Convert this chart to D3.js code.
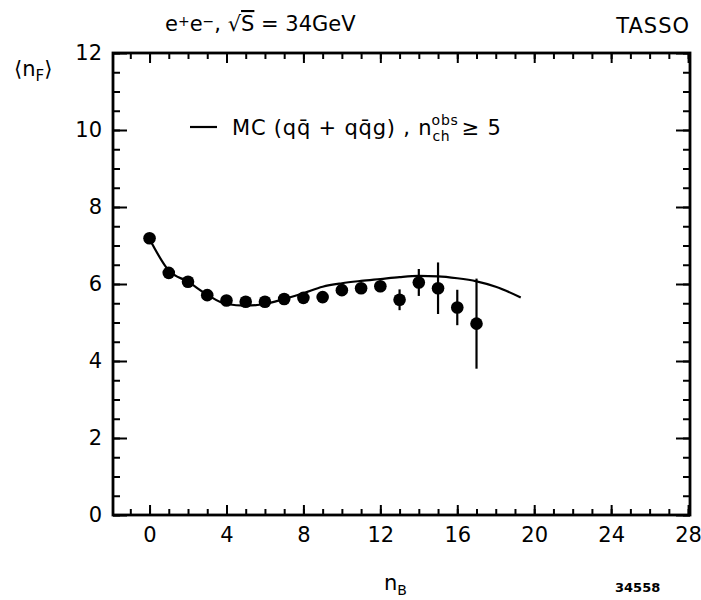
<!DOCTYPE html>
<html>
<head>
<meta charset="utf-8">
<script src="https://cdn.jsdelivr.net/npm/d3@7"></script>
<style>
  body { margin: 0; background: #fff; }
  svg text { font-family: "DejaVu Sans", sans-serif; fill: #000; }
</style>
</head>
<body>
<div id="chart"></div>
<script>
// measured points: n_B vs <n_F>
const nB = [0, 1, 2, 3, 4, 5, 6, 7, 8, 9, 10, 11, 12, 13, 14, 15, 16, 17]
const nF = [7.19, 6.29, 6.06, 5.71, 5.57, 5.54, 5.54, 5.61, 5.64, 5.66, 5.84, 5.89, 5.94, 5.59, 6.04, 5.89, 5.39, 4.97]
const nFErr = [0.1, 0.1, 0.08, 0.08, 0.08, 0.08, 0.08, 0.1, 0.1, 0.1, 0.12, 0.12, 0.15, 0.27, 0.35, 0.67, 0.46, 1.17]

// MC curve (qq + qqg)
const mcX = [0, 1, 2, 3, 4, 5, 6, 7, 8, 9, 10, 11, 12, 13, 14, 15, 16, 17, 18, 19.3]
const mcY = [7.17, 6.35, 6.06, 5.72, 5.48, 5.44, 5.48, 5.61, 5.76, 5.93, 6.02, 6.08, 6.13, 6.18, 6.21, 6.2, 6.15, 6.07, 5.93, 5.65]

// tick labels
const xTicks = [0, 4, 8, 12, 16, 20, 24, 28]
const yTicks = [0, 2, 4, 6, 8, 10, 12]

const width = 701
const height = 600
const frame = { left: 113, right: 690, top: 53, bottom: 515 }
const font = '"DejaVu Sans", sans-serif'

const svg = d3.select('#chart')
    .append('svg')
    .attr('width', width)
    .attr('height', height)

const xScale = d3.scaleLinear()
    .domain([-1.9, 28.1])
    .range([frame.left, frame.right])

const yScale = d3.scaleLinear()
    .domain([0, 12])
    .range([frame.bottom, frame.top])

const xMinor = d3.range(-1, 29, 1)
const yMinor = d3.range(0, 12.01, 0.5)

// ticks on all four sides, pointing inward
const addAxis = (axis, tx, ty) => {
    const g = svg.append('g')
        .attr('transform', 'translate(' + tx + ',' + ty + ')')
        .call(axis)
    g.select('.domain').remove()
    g.selectAll('line').attr('stroke', '#000').attr('stroke-width', 2)
    g.selectAll('text').style('font-size', '21px').style('font-family', font)
    return g
}

addAxis(d3.axisBottom(xScale).tickValues(xMinor).tickSize(-6).tickFormat(''), 0, frame.bottom)
addAxis(d3.axisBottom(xScale).tickValues(xTicks).tickSize(-10).tickPadding(12).tickFormat(d3.format('d')), 0, frame.bottom)
addAxis(d3.axisTop(xScale).tickValues(xMinor).tickSize(-6).tickFormat(''), 0, frame.top)
addAxis(d3.axisTop(xScale).tickValues(xTicks).tickSize(-10).tickFormat(''), 0, frame.top)

addAxis(d3.axisLeft(yScale).tickValues(yMinor).tickSize(-7).tickFormat(''), frame.left, 0)
addAxis(d3.axisLeft(yScale).tickValues(yTicks).tickSize(-14).tickPadding(11).tickFormat(d3.format('d')), frame.left, 0)
addAxis(d3.axisRight(yScale).tickValues(yMinor).tickSize(-7).tickFormat(''), frame.right, 0)
addAxis(d3.axisRight(yScale).tickValues(yTicks).tickSize(-14).tickFormat(''), frame.right, 0)

// frame
svg.append('rect')
    .attr('x', frame.left)
    .attr('y', frame.top)
    .attr('width', frame.right - frame.left)
    .attr('height', frame.bottom - frame.top)
    .attr('fill', 'none')
    .attr('stroke', '#000')
    .attr('stroke-width', 2.8)

// MC curve
const mc = mcX.map((x, i) => [x, mcY[i]])
svg.append('path')
    .datum(mc)
    .attr('fill', 'none')
    .attr('stroke', '#000')
    .attr('stroke-width', 2.2)
    .attr('d', d3.line()
        .x(d => xScale(d[0]))
        .y(d => yScale(d[1]))
        .curve(d3.curveMonotoneX))

// data points with error bars
const points = nB.map((x, i) => ({ x: x, y: nF[i], e: nFErr[i] }))

svg.selectAll('line.err')
    .data(points)
    .enter()
    .append('line')
    .attr('class', 'err')
    .attr('x1', d => xScale(d.x))
    .attr('x2', d => xScale(d.x))
    .attr('y1', d => yScale(d.y - d.e))
    .attr('y2', d => yScale(d.y + d.e))
    .attr('stroke', '#000')
    .attr('stroke-width', 2.2)

svg.selectAll('circle.pt')
    .data(points)
    .enter()
    .append('circle')
    .attr('class', 'pt')
    .attr('cx', d => xScale(d.x))
    .attr('cy', d => yScale(d.y))
    .attr('r', 6.3)
    .attr('fill', '#000')

// title texts
const title = svg.append('text')
    .attr('x', 165)
    .attr('y', 31)
    .style('font-size', '21px')
title.append('tspan').text('e')
title.append('tspan').text('+').attr('dy', -5).style('font-size', '14px')
title.append('tspan').text('e').attr('dy', 5)
title.append('tspan').text('\u2212').attr('dy', -5).style('font-size', '14px')
title.append('tspan').text(',  \u221A').attr('dy', 5)
title.append('tspan').text('S').style('text-decoration', 'overline')
title.append('tspan').text('  = 34GeV')

svg.append('text')
    .attr('x', 690)
    .attr('y', 33)
    .attr('text-anchor', 'end')
    .style('font-size', '21px')
    .style('letter-spacing', '1px')
    .text('TASSO')

// y axis label
const yLab = svg.append('text')
    .attr('x', 14)
    .attr('y', 76)
    .style('font-size', '21px')
yLab.append('tspan').text('\u27E8n')
yLab.append('tspan').text('F').attr('dy', 5).style('font-size', '15px')
yLab.append('tspan').text('\u27E9').attr('dy', -5)

// x axis label
const xLab = svg.append('text')
    .attr('x', 384)
    .attr('y', 590)
    .style('font-size', '21px')
xLab.append('tspan').text('n')
xLab.append('tspan').text('B').attr('dy', 5).style('font-size', '14px')

svg.append('text')
    .attr('x', 615)
    .attr('y', 592)
    .style('font-size', '13px')
    .style('font-weight', 'bold')
    .text('34558')

// legend
svg.append('line')
    .attr('x1', 190)
    .attr('x2', 217)
    .attr('y1', 127)
    .attr('y2', 127)
    .attr('stroke', '#000')
    .attr('stroke-width', 2.2)

const leg = svg.append('text')
    .attr('x', 232)
    .attr('y', 135)
    .style('font-size', '21px')
    .style('letter-spacing', '0.8px')
leg.append('tspan').text('MC (qq\u0304 + qq\u0304g) , n')
leg.append('tspan').text('ch').attr('dy', 6).style('font-size', '14px')
leg.append('tspan').text('obs').attr('dx', -19).attr('dy', -16).style('font-size', '14px')
leg.append('tspan').text('\u2265 5').attr('dx', 3).attr('dy', 10)
</script>
</body>
</html>
